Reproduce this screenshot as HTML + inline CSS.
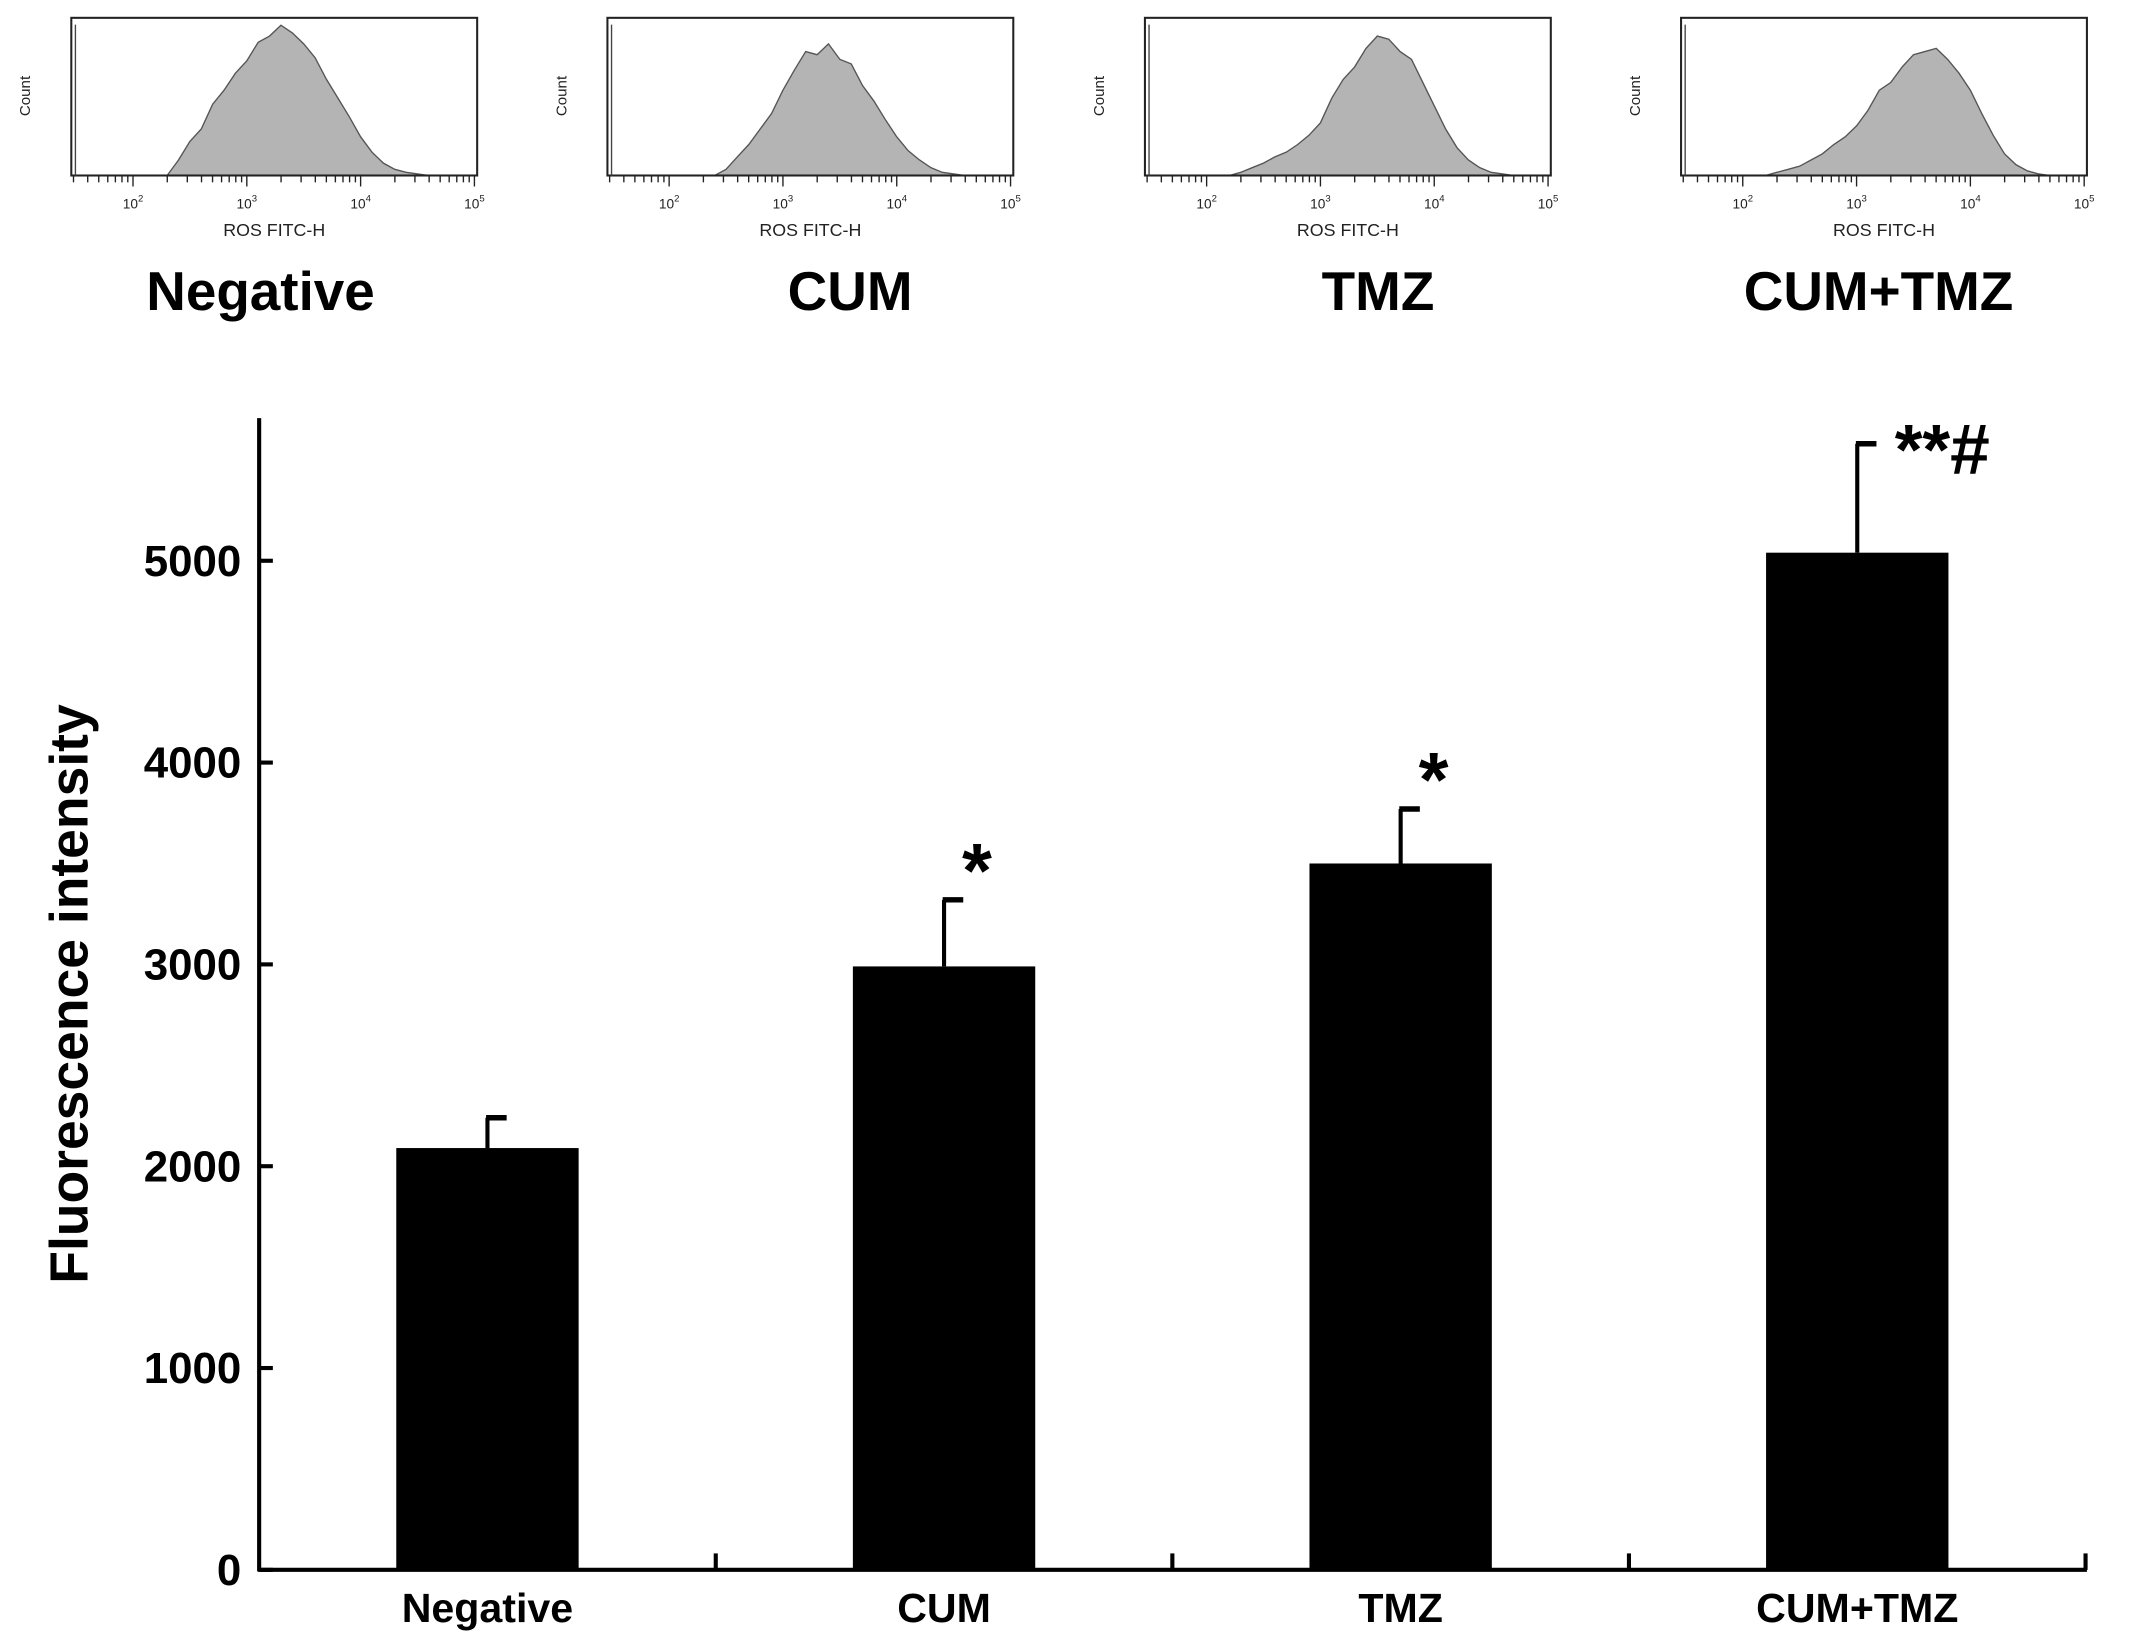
<!DOCTYPE html>
<html><head><meta charset="utf-8"><style>
html,body{margin:0;padding:0;background:#fff}
svg{display:block}
text{font-family:"Liberation Sans",Arial,sans-serif}
</style></head><body>
<svg id="fig" width="2150" height="1648" viewBox="0 0 1568 1202" preserveAspectRatio="none" xmlns="http://www.w3.org/2000/svg">
<g id="hists"></g>
<g id="chart"></g>
</svg>
<script>
// ---- bar chart data ----
const categories = ["Negative","CUM","TMZ","CUM+TMZ"];
const values = [2090, 2990, 3500, 5040];
const errors = [150, 330, 270, 540];
const marks = ["", "*", "*", "**#"];
const yTicks = [0,1000,2000,3000,4000,5000];
// ---- histogram data (log10 bins) ----
const histLogBins = [2.2,2.3,2.4,2.5,2.6,2.7,2.8,2.9,3.0,3.1,3.2,3.3,3.4,3.5,3.6,3.7,3.8,3.9,4.0,4.1,4.2,4.3,4.4,4.5,4.6,4.7,4.8];
const histNeg = [0,0,0.1,0.22,0.3,0.46,0.55,0.66,0.74,0.86,0.9,0.97,0.92,0.85,0.76,0.62,0.5,0.38,0.25,0.15,0.08,0.04,0.02,0.01,0,0,0];
const histCum = [0,0,0,0.04,0.12,0.2,0.3,0.4,0.55,0.68,0.8,0.78,0.85,0.75,0.72,0.58,0.48,0.36,0.25,0.16,0.1,0.05,0.02,0.01,0,0,0];
const histTmz = [0,0.02,0.05,0.08,0.12,0.15,0.2,0.26,0.34,0.5,0.62,0.7,0.82,0.9,0.88,0.8,0.75,0.6,0.45,0.3,0.18,0.1,0.05,0.02,0.01,0,0];
const histCombo = [0,0.02,0.04,0.06,0.1,0.14,0.2,0.25,0.32,0.42,0.55,0.6,0.7,0.78,0.8,0.82,0.75,0.66,0.55,0.4,0.26,0.14,0.07,0.03,0.01,0,0];
const histLabels = ["Negative","CUM","TMZ","CUM+TMZ"];
const histSeries = [histNeg, histCum, histTmz, histCombo];

const NS="http://www.w3.org/2000/svg";
function mk(tag, attrs, parent){const e=document.createElementNS(NS,tag);for(const k in attrs)e.setAttribute(k,attrs[k]);parent.appendChild(e);return e;}

// ---- histograms ----
const hg=document.getElementById('hists');
const panelLeft=[52,443,835,1226], panelW=296, pTop=13, pBot=128;
const decPx=83;
histSeries.forEach((s,p)=>{
  const L=panelLeft[p];
  const xl=v=>L+45+(v-2)*decPx;
  const yl=h=>pBot-h*(pBot-pTop-2)*1.0;
  const g=mk('g',{},hg);
  
  
  let d='M'+xl(histLogBins[0])+' '+pBot;
  histLogBins.forEach((b,i)=>{d+=' L'+xl(b).toFixed(1)+' '+yl(s[i]).toFixed(1);});
  d+=' L'+xl(histLogBins[histLogBins.length-1])+' '+pBot+' Z';
  const path=mk('path',{d:d,fill:'#b4b4b4',stroke:'#555','stroke-width':1},g);
  
  
  const box=mk('rect',{x:L,y:pTop,width:panelW,height:pBot-pTop,fill:'none',stroke:'#222','stroke-width':1.5},g);
  
  
  mk('line',{x1:L+3,x2:L+3,y1:pTop+5,y2:pBot,stroke:'#444','stroke-width':1},g);
  for(let dcd=1;dcd<=5;dcd++){
    for(let m=1;m<10;m++){
      const x=xl(dcd+Math.log10(m));
      if(x<L||x>L+panelW)continue;
      mk('line',{x1:x,x2:x,y1:pBot,y2:pBot+(m===1?8:5),stroke:'#222','stroke-width':1},g);
    }
  }
  [2,3,4,5].forEach(e=>{
    const t=mk('text',{x:xl(e),y:pBot+24,'font-size':10,'text-anchor':'middle',fill:'#222'},g);
    t.textContent='10'; const sp=mk('tspan',{dy:-5,'font-size':7},t); sp.textContent=e;
  });
  const xt=mk('text',{x:L+148,y:pBot+44,'font-size':13,'text-anchor':'middle',fill:'#222'},g);
  
  
  xt.textContent='ROS FITC-H';
  const ct=mk('text',{x:L-30,y:70,'font-size':11,'text-anchor':'middle',fill:'#222',transform:'rotate(-90 '+(L-30)+' 70)'},g);
  
  
  ct.textContent='Count';
  const lab=mk('text',{x:[190,620,1005,1370][p],y:226,'font-size':40,'font-weight':'bold','text-anchor':'middle',fill:'#000'},g);
  
  
  lab.textContent=histLabels[p];
});

// ---- bar chart ----
const cg=document.getElementById('chart');
const x0=189,x1=1521,y0=1145,perUnit=147.2/1000;
const ys=v=>y0-v*perUnit;
const catW=(x1-x0)/categories.length;
const xc=i=>x0+catW*(i+0.5);
const barW=133;
const yax=mk('line',{x1:x0,x2:x0,y1:305,y2:y0+1,stroke:'#000','stroke-width':3},cg);


const xax=mk('line',{x1:x0-1,x2:x1+1,y1:y0,y2:y0,stroke:'#000','stroke-width':3},cg);


yTicks.forEach(t=>{
  mk('line',{x1:x0,x2:x0+10,y1:ys(t),y2:ys(t),stroke:'#000','stroke-width':3},cg);
  const tl=mk('text',{x:176,y:ys(t)+11,'font-size':32,'font-weight':'bold','text-anchor':'end'},cg);
  
  
  tl.textContent=t;
});
for(let i=1;i<=categories.length;i++){
  const x=x0+catW*i;
  mk('line',{x1:x,x2:x,y1:y0,y2:y0-12,stroke:'#000','stroke-width':3},cg);
}
categories.forEach((c,i)=>{
  const cx=xc(i);
  const eb=mk('line',{x1:cx,x2:cx,y1:ys(values[i]),y2:ys(values[i]+errors[i]),stroke:'#000','stroke-width':3},cg);
  
  
  mk('line',{x1:cx-1,x2:cx+14,y1:ys(values[i]+errors[i]),y2:ys(values[i]+errors[i]),stroke:'#000','stroke-width':4},cg);
  const r=mk('rect',{x:cx-barW/2,y:ys(values[i]),width:barW,height:y0-ys(values[i]),fill:'#000'},cg);
  
  
  const cl=mk('text',{x:cx,y:1183,'font-size':30,'font-weight':'bold','text-anchor':'middle'},cg);
  
  
  cl.textContent=c;
  if(marks[i]){
    const st=mk('text',{x:cx+(marks[i].length>1?62:24),y:ys(values[i]+errors[i])+(marks[i].length>1?22:-2),'font-size':marks[i].length>1?52:56,'font-weight':'bold','text-anchor':'middle'},cg);
    
    
    st.textContent=marks[i];
  }
});
const yt=mk('text',{x:64,y:725,'font-size':39,'font-weight':'bold','text-anchor':'middle',transform:'rotate(-90 64 725)'},cg);


yt.textContent='Fluorescence intensity';
</script>
</body></html>
